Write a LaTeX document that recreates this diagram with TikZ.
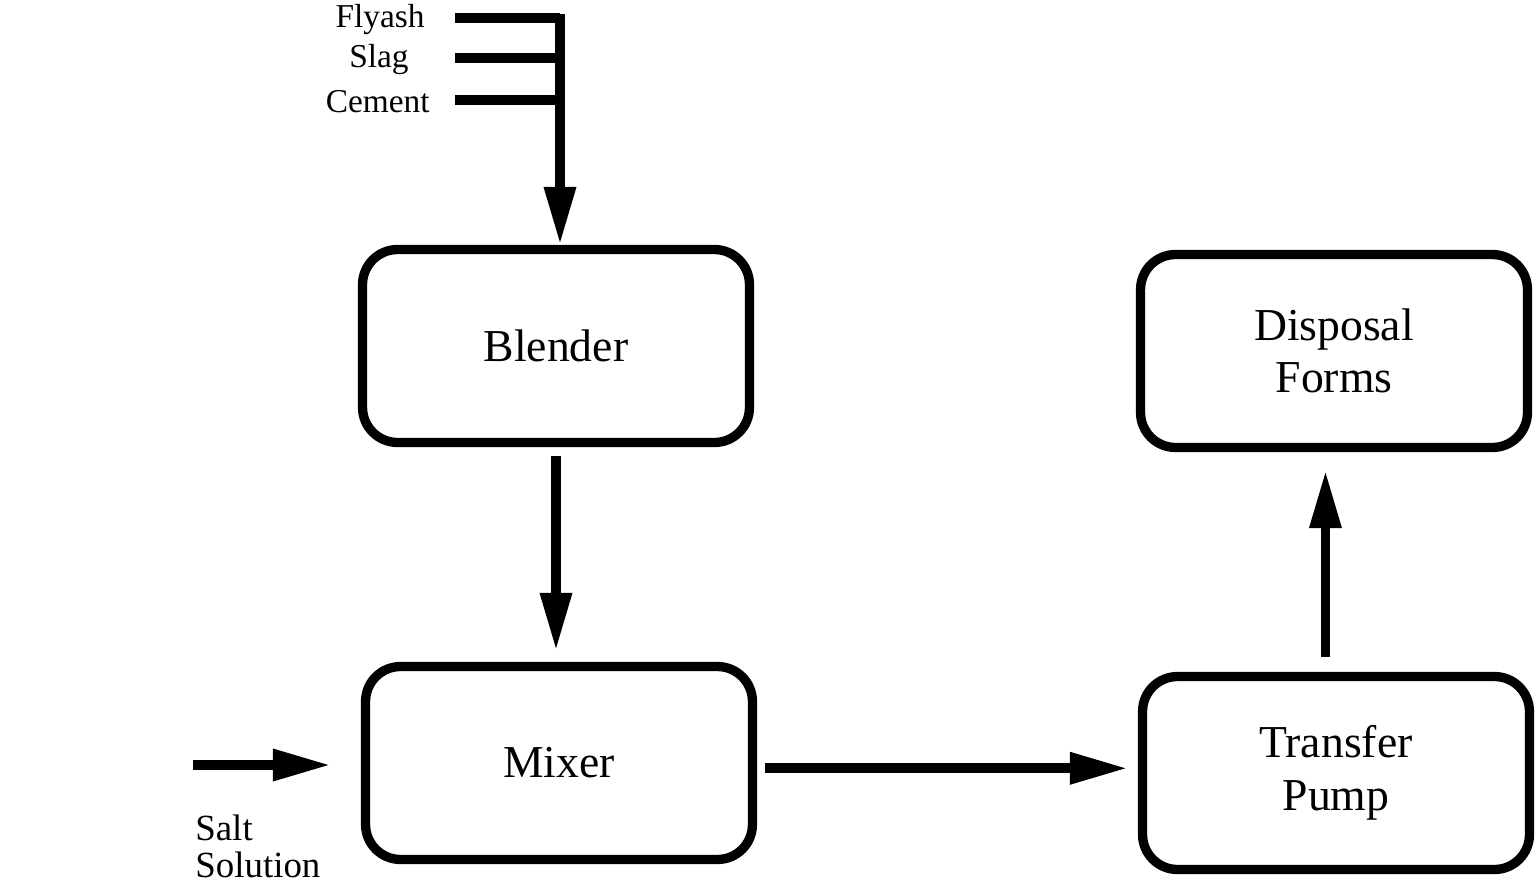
\documentclass[tikz,border=0pt]{standalone}
\usepackage{fontspec}
\setmainfont{Liberation Serif}
\usetikzlibrary{arrows.meta, positioning}

\begin{document}
\begin{tikzpicture}[x=0.02cm, y=-0.02cm,
    unit/.style = {draw, line width=5.3pt, rounded corners=0.7cm,
      minimum width=7.74cm, minimum height=3.86cm, align=center,
      font=\fontsize{26}{30}\selectfont},
    flow/.style = {line width=5.6pt,
      -{Triangle[length=33pt, width=17pt]}},
    feed/.style = {line width=5.6pt},
    feedlabel/.style = {anchor=east, inner sep=0pt,
      font=\fontsize{19}{22}\selectfont},
  ]
  \useasboundingbox (0,0) rectangle (1539,890);

  % process units
  \node[unit] (blender) at (556,346) {Blender};
  \node[unit] (mixer) at (559,763) {Mixer};
  \node[unit] (disposal) at (1334,351) {Disposal\\Forms};
  \node[unit] (pump) at (1336,773) {Transfer\\Pump};

  % dry feeds
  \node[feedlabel] (flyash) at (425,20) {Flyash};
  \node[feedlabel] (slag) at (409,60) {Slag};
  \node[feedlabel] (cement) at (430,102) {Cement};
  \coordinate (joint) at (560,14);
  \coordinate (s1) at (455,18);
  \coordinate (s2) at (455,58);
  \coordinate (s3) at (455,100);
  \draw[feed] (s1) -- (s1 -| joint);
  \draw[feed] (s2) -- (s2 -| joint);
  \draw[feed] (s3) -- (s3 -| joint);
  \draw[flow] (joint) -- (blender.north -| joint);

  % salt solution
  \coordinate (saltin) at (193,765);
  \node[anchor=north west, align=left, inner sep=0pt,
    font=\fontsize{21}{21}\selectfont] (salt) at (195,815) {Salt\\Solution};
  \draw[flow, shorten >=0.6cm] (saltin) -- (saltin -| mixer.west);

  % main line
  \draw[flow, shorten <=0.18cm, shorten >=0.22cm] (blender.south) -- (blender.south |- mixer.north);
  \draw[flow, shorten <=0.16cm, shorten >=0.2cm] ([yshift=-3]mixer.east) -- ([yshift=-3]mixer.east -| pump.west);
  \draw[flow, shorten <=0.3cm, shorten >=0.36cm] ([xshift=-6]pump.north) -- ([xshift=-6]pump.north |- disposal.south);
\end{tikzpicture}
\end{document}
